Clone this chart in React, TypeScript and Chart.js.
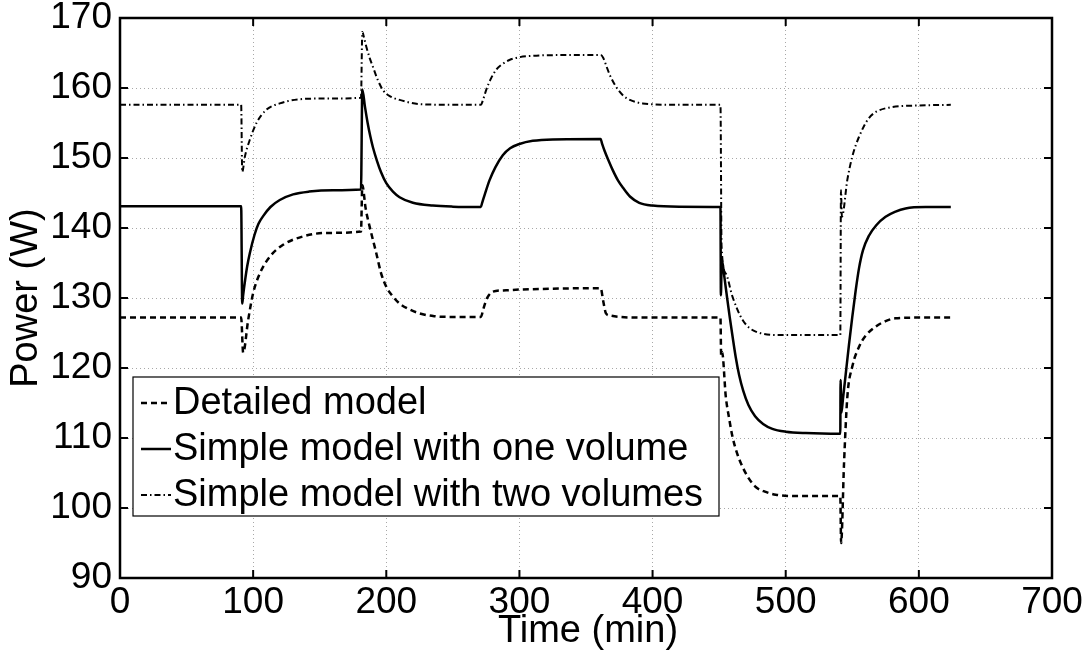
import React, { useEffect, useRef } from "react";
import { Chart, registerables } from "chart.js";

Chart.register(...registerables);

const FONT = "'Liberation Sans', Arial, Helvetica, sans-serif";

const xTicks = [0, 100, 200, 300, 400, 500, 600, 700];
const yTicks = [90, 100, 110, 120, 130, 140, 150, 160, 170];

const seriesLabels = [
  "Detailed model",
  "Simple model with one volume",
  "Simple model with two volumes",
];

const detailedTime = [
  0, 91, 92.5, 96.3, 100, 105, 112.5, 122.5, 137.5, 155, 181, 182, 184.5, 187.5, 192.5, 196, 200, 205, 210, 217,
  225, 236, 247.5, 271, 273, 275, 277, 280, 290, 300, 361, 363, 365, 368, 375, 390, 451, 451.5, 452.2, 455, 457.5,
  460, 463.5, 467.5, 472, 477.5, 485, 492.5, 510, 541, 541.6, 543.8, 546.3, 550, 555, 560, 567.5, 575, 582.5, 600,
  624,
];
const detailedPower = [
  127.2, 127.2, 122.2, 126.9, 130.7, 133.5, 135.9, 137.6, 138.8, 139.3, 139.5, 146.1, 142.8, 140.2, 136.4, 133.6,
  131.6, 130.2, 129.2, 128.4, 127.8, 127.4, 127.3, 127.3, 128.5, 129.7, 130.4, 130.9, 131.1, 131.2, 131.4, 129.5,
  127.8, 127.5, 127.3, 127.2, 127.2, 121.8, 122.3, 115.9, 112.8, 110.2, 107.8, 105.9, 104.3, 103.0, 102.3, 101.9,
  101.7, 101.7, 95.0, 106.4, 115.9, 120.2, 123.0, 124.6, 125.9, 126.7, 127.1, 127.2, 127.2,
];

const oneVolumeTime = [
  0, 91, 91.8, 92.5, 94, 95.5, 97.5, 101, 104, 107.5, 113, 120, 130, 142, 160, 181, 182, 184, 186, 188, 190, 193,
  196, 200, 205, 210, 220, 235, 250, 271, 272, 274, 277.5, 282, 287.5, 293, 300, 310, 325, 361, 362, 364, 367, 370,
  374, 378, 383, 390, 400, 420, 451, 451.3, 452, 454, 456, 458, 460, 462.5, 465, 468, 472, 477, 483, 490, 500, 515,
  541, 541.2, 541.8, 543, 545, 547.5, 550, 552.5, 555, 558, 562.5, 568, 575, 582, 590, 605, 624,
];
const oneVolumePower = [
  143.1, 143.1, 129.2, 130.4, 132.6, 134.5, 136.4, 139.0, 140.6, 141.7, 143.0, 144.0, 144.8, 145.2, 145.4, 145.5,
  159.8, 157.3, 155.0, 153.1, 151.5, 149.6, 148.0, 146.4, 145.2, 144.4, 143.6, 143.2, 143.05, 143.0, 143.6, 144.8,
  146.8, 148.7, 150.4, 151.4, 152.0, 152.45, 152.65, 152.7, 152.1, 151.0, 149.6, 148.3, 146.8, 145.7, 144.5, 143.6,
  143.2, 143.05, 143.0, 130.4, 135.5, 132.9, 130.0, 127.2, 124.6, 121.5, 119.0, 116.8, 114.7, 113.1, 112.0, 111.3,
  110.9, 110.7, 110.6, 118.3, 113.6, 115.6, 119.0, 123.3, 127.3, 131.0, 134.2, 136.8, 138.9, 140.4, 141.6, 142.3,
  142.8, 143.0, 143.0,
];

const twoVolumesTime = [
  0, 91, 91.8, 93.8, 97.5, 102.5, 110, 120, 135, 155, 181, 182, 183.5, 185, 187.5, 190, 193.5, 197.5, 203, 210, 225,
  250, 271, 273, 275, 278.5, 282.5, 287, 292.5, 300, 310, 330, 361, 363, 365, 368, 372.5, 377.5, 383, 392.5, 420,
  451, 451.8, 455, 460, 467.5, 477.5, 497.5, 541, 541.5, 542.2, 546.3, 550, 555, 562.5, 575, 600, 624,
];
const twoVolumesPower = [
  157.6, 157.6, 148.0, 150.2, 152.6, 155.0, 156.9, 157.8, 158.4, 158.5, 158.6, 168.0, 167.0, 165.9, 164.3, 163.0,
  161.2, 159.7, 158.8, 158.3, 157.7, 157.6, 157.6, 158.5, 159.7, 161.3, 162.6, 163.4, 164.0, 164.4, 164.6, 164.7,
  164.7, 164.3, 163.3, 161.8, 160.2, 159.0, 158.3, 157.8, 157.6, 157.6, 137.5, 133.5, 130.2, 126.9, 125.2, 124.7,
  124.7, 145.4, 141.6, 146.9, 150.2, 153.0, 155.7, 157.1, 157.5, 157.6,
];

const toPoints = (xs: number[], ys: number[]) => xs.map((x, i) => ({ x, y: ys[i] }));

const DASHED = [6, 4];
const DASHDOT = [6, 3, 1.5, 3];

const framePlugin = {
  id: "matlabFrame",
  afterDraw(chart: any) {
    const ctx = chart.ctx as CanvasRenderingContext2D;
    const { left, right, top, bottom } = chart.chartArea;
    const xs = chart.scales.x;
    const ys = chart.scales.y;
    ctx.save();
    ctx.strokeStyle = "#000";
    ctx.lineWidth = 2;
    ctx.setLineDash([]);
    const tl = 8;
    xTicks.forEach((v) => {
      const p = xs.getPixelForValue(v);
      ctx.beginPath();
      ctx.moveTo(p, bottom);
      ctx.lineTo(p, bottom - tl);
      ctx.moveTo(p, top);
      ctx.lineTo(p, top + tl);
      ctx.stroke();
    });
    yTicks.forEach((v) => {
      const p = ys.getPixelForValue(v);
      ctx.beginPath();
      ctx.moveTo(left, p);
      ctx.lineTo(left + tl, p);
      ctx.moveTo(right, p);
      ctx.lineTo(right - tl, p);
      ctx.stroke();
    });
    ctx.lineWidth = 2.5;
    ctx.strokeRect(left, top, right - left, bottom - top);

    // legend
    const lx = 133, ly = 377, lw = 586, lh = 139;
    ctx.fillStyle = "#fff";
    ctx.fillRect(lx, ly, lw, lh);
    ctx.lineWidth = 1.2;
    ctx.strokeRect(lx, ly, lw, lh);
    const rows = [403, 449, 495];
    const dashes = [DASHED, [], DASHDOT];
    const widths = [2.5, 2.5, 2];
    ctx.font = `38px ${FONT}`;
    ctx.textBaseline = "middle";
    ctx.textAlign = "left";
    rows.forEach((ry, i) => {
      ctx.beginPath();
      ctx.setLineDash(dashes[i]);
      ctx.lineWidth = widths[i];
      ctx.strokeStyle = "#000";
      ctx.moveTo(141, ry);
      ctx.lineTo(171, ry);
      ctx.stroke();
      ctx.setLineDash([]);
      ctx.fillStyle = "#000";
      ctx.fillText(seriesLabels[i], 173, ry + 1);
    });

    ctx.fillStyle = "#000";
    ctx.textAlign = "center";
    ctx.textBaseline = "middle";
    ctx.font = `38px ${FONT}`;
    ctx.fillText("Time (min)", (left + right) / 2 + 2, 632);
    ctx.translate(27, (top + bottom) / 2);
    ctx.rotate(-Math.PI / 2);
    ctx.fillText("Power (W)", 0, 0);
    ctx.restore();
  },
};

export default function App() {
  const ref = useRef<HTMLCanvasElement | null>(null);
  useEffect(() => {
    if (!ref.current) return;
    const chart = new Chart(ref.current, {
      type: "line",
      data: {
        datasets: [
          {
            label: seriesLabels[0],
            data: toPoints(detailedTime, detailedPower),
            borderColor: "#000",
            borderWidth: 2.5,
            borderDash: DASHED,
          },
          {
            label: seriesLabels[1],
            data: toPoints(oneVolumeTime, oneVolumePower),
            borderColor: "#000",
            borderWidth: 2.5,
          },
          {
            label: seriesLabels[2],
            data: toPoints(twoVolumesTime, twoVolumesPower),
            borderColor: "#000",
            borderWidth: 2,
            borderDash: DASHDOT,
          },
        ],
      },
      options: {
        responsive: false,
        animation: false,
        elements: { point: { radius: 0 }, line: { cubicInterpolationMode: "monotone", fill: false } },
        layout: { padding: { left: 0, right: 38, top: 18, bottom: 0 } },
        plugins: { legend: { display: false }, tooltip: { enabled: false }, title: { display: false } },
        scales: {
          x: {
            type: "linear",
            min: 0,
            max: 700,
            afterBuildTicks: (s: any) => {
              s.ticks = xTicks.map((v) => ({ value: v }));
            },
            afterFit: (s: any) => {
              s.height = 80;
            },
            ticks: {
              color: "#000",
              font: { family: FONT, size: 37, lineHeight: 1 },
              padding: 6,
              maxRotation: 0,
              autoSkip: false,
            },
            grid: { color: "#a8a8a8", lineWidth: 1, drawTicks: false },
            border: { display: false, dash: [1, 3] },
          },
          y: {
            type: "linear",
            min: 90,
            max: 170,
            afterBuildTicks: (s: any) => {
              s.ticks = yTicks.map((v) => ({ value: v }));
            },
            afterFit: (s: any) => {
              s.width = 120;
              s.paddingTop = 0;
              s.paddingBottom = 0;
            },
            ticks: {
              color: "#000",
              font: { family: FONT, size: 37, lineHeight: 0.4 },
              padding: 8,
              autoSkip: false,
            },
            grid: { color: "#a8a8a8", lineWidth: 1, drawTicks: false },
            border: { display: false, dash: [1, 3] },
          },
        },
      } as any,
      plugins: [framePlugin],
    });
    return () => chart.destroy();
  }, []);
  return (
    <div style={{ position: "absolute", left: 0, top: 0, width: 1090, height: 658, background: "#fff" }}>
      <canvas ref={ref} width={1090} height={658} style={{ width: 1090, height: 658, display: "block" }} />
    </div>
  );
}
